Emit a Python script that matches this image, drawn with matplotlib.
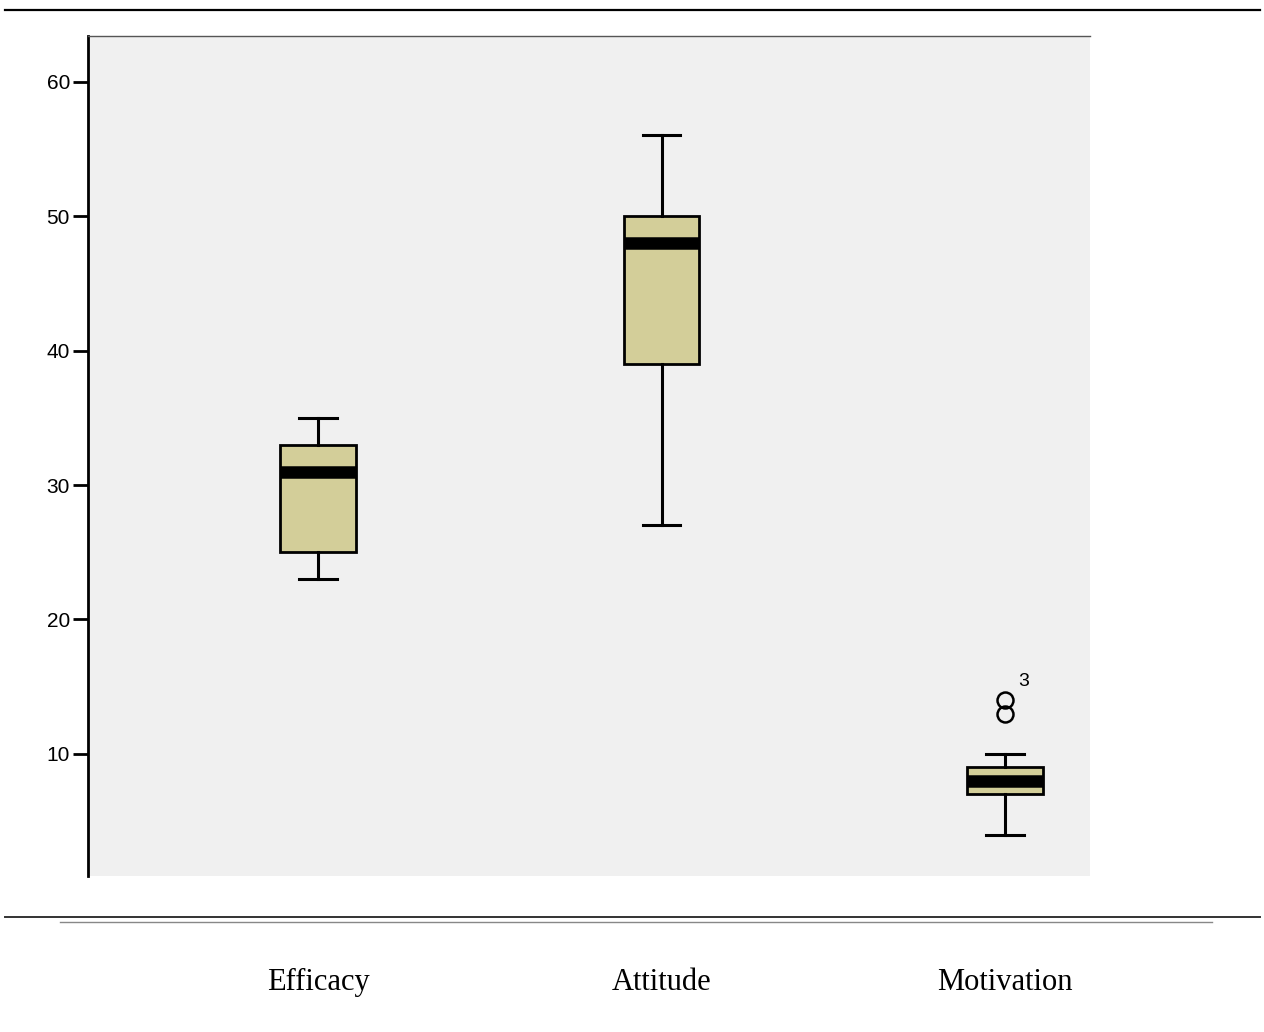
import matplotlib
matplotlib.use("Agg")
import matplotlib.pyplot as plt
from matplotlib.lines import Line2D

# values
categories = ["Efficacy", "Attitude", "Motivation"]
whisker_low = [23, 27, 4]
box_q1 = [25, 39, 7]
medians = [31, 48, 8]
box_q3 = [33, 50, 9]
whisker_high = [35, 56, 10]
outliers = [[], [], [13, 14]]
outlier_labels = ["3"]
yticks = [10, 20, 30, 40, 50, 60]

stats = []
for i, name in enumerate(categories):
    stats.append({
        "label": name,
        "whislo": whisker_low[i],
        "q1": box_q1[i],
        "med": medians[i],
        "q3": box_q3[i],
        "whishi": whisker_high[i],
        "fliers": outliers[i],
    })

fig = plt.figure(figsize=(12.64, 10.32), dpi=100)
ax = fig.add_axes([88 / 1264, 1 - 876 / 1032, 1002 / 1264, 840 / 1032])
ax.set_facecolor("#F0F0F0")

positions = [1, 2, 3]
ax.bxp(stats, positions=positions, widths=0.22, patch_artist=True,
       boxprops=dict(facecolor="#D3CE99", edgecolor="black", linewidth=2),
       medianprops=dict(color="black", linewidth=9, solid_capstyle="butt"),
       whiskerprops=dict(color="black", linewidth=2.2),
       capprops=dict(color="black", linewidth=2.2),
       capwidths=0.11,
       flierprops=dict(marker="o", markersize=11.5, markerfacecolor="none",
                       markeredgecolor="black", markeredgewidth=1.8))

# outlier case label
ax.text(3 + 0.04, max(outliers[2]) + 1.4, outlier_labels[0], fontsize=14,
        family="Liberation Sans", ha="left", va="center")

ax.set_xlim(1 - 230 / 343, 3 + 85 / 343)
ax.set_ylim(0.92, 63.4)
ax.set_yticks(yticks)
ax.set_yticklabels([str(t) for t in yticks], family="Liberation Sans", fontsize=15)
ax.tick_params(axis="y", direction="out", length=11, width=2, pad=2)

ax.set_xticks(positions)
ax.set_xticklabels(categories, family="Liberation Serif", fontsize=22)
ax.tick_params(axis="x", length=0, pad=66)

ax.spines["right"].set_visible(False)
ax.spines["bottom"].set_visible(False)
ax.spines["left"].set_linewidth(2)
ax.spines["top"].set_color("#555555")
ax.spines["top"].set_linewidth(1)

# rules across the page
fig.add_artist(Line2D([5 / 1264, 1260 / 1264], [1 - 10 / 1032, 1 - 10 / 1032],
                      color="black", linewidth=1.6))
fig.add_artist(Line2D([5 / 1264, 1260 / 1264], [1 - 917 / 1032, 1 - 917 / 1032],
                      color="#333333", linewidth=1.4))
fig.add_artist(Line2D([60 / 1264, 1212 / 1264], [1 - 922 / 1032, 1 - 922 / 1032],
                      color="#888888", linewidth=1))

fig.savefig("out.png", dpi=100)
